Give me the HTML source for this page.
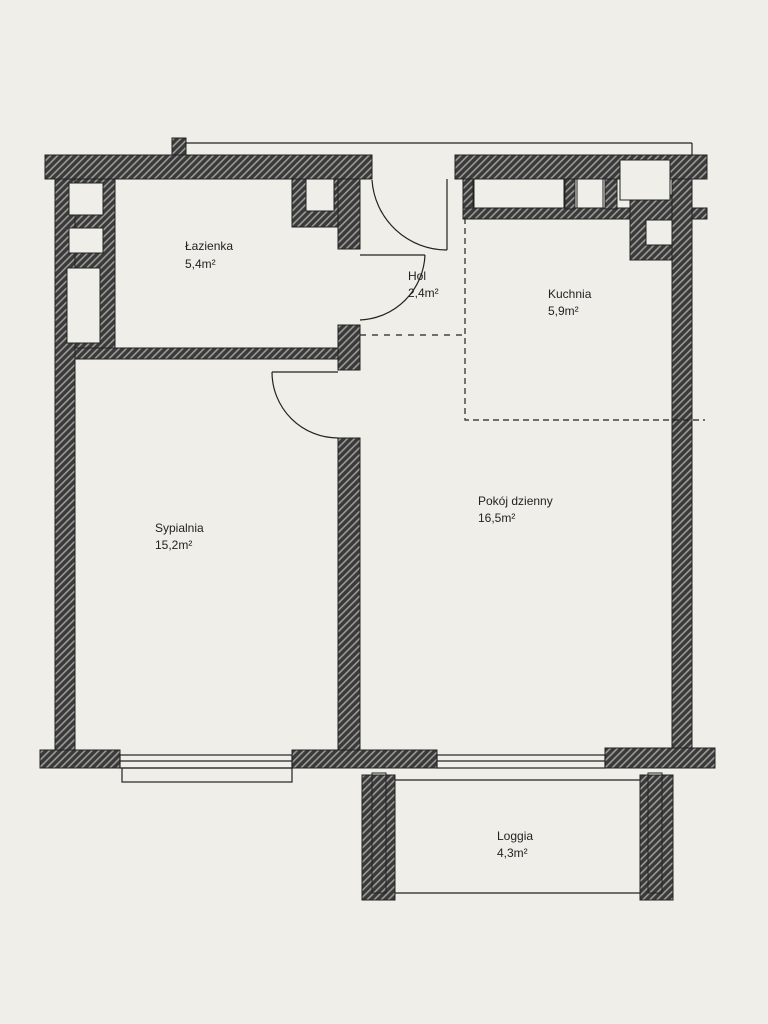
<!DOCTYPE html>
<html><head><meta charset="utf-8"><style>
html,body{margin:0;padding:0;background:#efeee9;}
svg{display:block}
text{font-family:"Liberation Sans",sans-serif;font-size:12px;fill:#222}
</style></head><body>
<svg width="768" height="1024" viewBox="0 0 768 1024" xmlns="http://www.w3.org/2000/svg">
<defs>
<pattern id="h" width="5" height="5" patternUnits="userSpaceOnUse" patternTransform="rotate(45)">
<rect width="5" height="5" fill="#3a3a3a"/><rect width="1.6" height="5" fill="#9a9a96"/>
</pattern>
</defs>
<rect width="768" height="1024" fill="#efeee9"/>
<g fill="url(#h)" stroke="#222" stroke-width="1">
<!-- top wall -->
<rect x="45" y="155" width="327" height="24"/>
<rect x="455" y="155" width="252" height="24"/>
<rect x="172" y="138" width="14" height="17"/>
<!-- left wall -->
<rect x="55" y="179" width="20" height="575"/>
<!-- left column with boxes -->
<rect x="75" y="179" width="40" height="172"/>
<!-- bath/bed wall -->
<rect x="75" y="348" width="265" height="11"/>
<!-- bathroom corner -->
<rect x="292" y="179" width="46" height="48"/>
<!-- middle wall -->
<rect x="338" y="179" width="22" height="70"/>
<rect x="338" y="325" width="22" height="45"/>
<rect x="338" y="438" width="22" height="312"/>
<!-- kitchen top -->
<rect x="463" y="179" width="10" height="40"/>
<rect x="463" y="208" width="244" height="11"/>
<rect x="565" y="179" width="10" height="30"/>
<rect x="605" y="179" width="12" height="30"/>
<rect x="630" y="195" width="44" height="65"/>
<!-- right wall -->
<rect x="672" y="179" width="20" height="571"/>
<!-- bottom wall -->
<rect x="40" y="750" width="80" height="18"/>
<rect x="292" y="750" width="145" height="18"/>
<rect x="605" y="748" width="110" height="20"/>
<!-- loggia posts -->
<rect x="362" y="775" width="33" height="125"/>
<rect x="640" y="775" width="33" height="125"/>
</g>
<g fill="#efeee9" stroke="#222" stroke-width="1">
<rect x="69" y="183" width="34" height="32"/>
<rect x="69" y="228" width="34" height="25"/>
<rect x="67" y="268" width="33" height="75"/>
<rect x="306" y="179" width="28" height="32"/>
<rect x="474" y="179" width="90" height="29"/>
<rect x="577" y="179" width="26" height="29"/>
<rect x="620" y="160" width="50" height="40"/>
<rect x="646" y="220" width="26" height="25"/>
<rect x="372" y="773" width="14" height="120" fill="none"/>
<rect x="648" y="773" width="14" height="120" fill="none"/>
</g>
<g stroke="#222" fill="none" stroke-width="1.2">
<line x1="185" y1="143" x2="692" y2="143"/>
<line x1="692" y1="143" x2="692" y2="155"/>
<line x1="395" y1="893" x2="640" y2="893"/>
<line x1="395" y1="780" x2="640" y2="780"/>
<!-- windows -->
<rect x="120" y="755" width="172" height="13"/>
<line x1="120" y1="761" x2="292" y2="761"/>
<rect x="122" y="768" width="170" height="14"/>
<rect x="437" y="755" width="168" height="13"/>
<line x1="437" y1="761" x2="605" y2="761"/>
<!-- doors -->
<line x1="447" y1="179" x2="447" y2="250"/>
<path d="M372 180 A75 75 0 0 0 447 250"/>
<line x1="360" y1="255" x2="425" y2="255"/>
<path d="M360 320 A68 68 0 0 0 425 255"/>
<line x1="272" y1="372" x2="338" y2="372"/>
<path d="M272 372 A66 66 0 0 0 338 438"/>
<!-- dashed -->
<path d="M360 335 H465" stroke-dasharray="6 6"/>
<path d="M465 218 V420 H705" stroke-dasharray="6 4"/>
</g>
<text x="185" y="250">Łazienka</text><text x="185" y="268">5,4m²</text>
<text x="408" y="280">Hol</text><text x="408" y="297">2,4m²</text>
<text x="548" y="298">Kuchnia</text><text x="548" y="315">5,9m²</text>
<text x="478" y="505">Pokój dzienny</text><text x="478" y="522">16,5m²</text>
<text x="155" y="532">Sypialnia</text><text x="155" y="549">15,2m²</text>
<text x="497" y="840">Loggia</text><text x="497" y="857">4,3m²</text>
</svg>
</body></html>
